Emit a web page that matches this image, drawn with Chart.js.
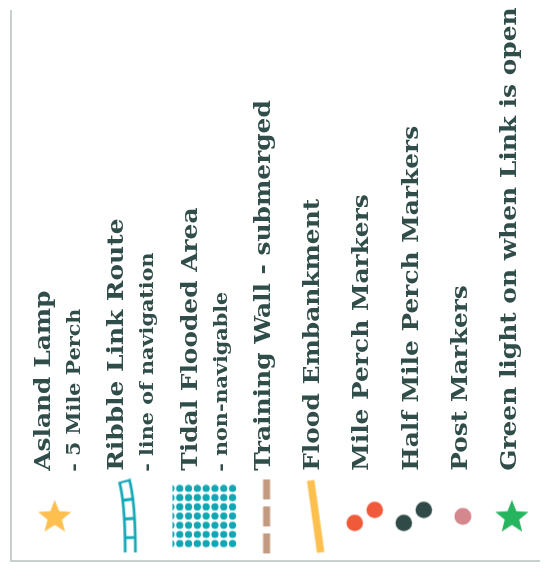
<!DOCTYPE html>
<html><head><meta charset="utf-8">
<script src="https://cdn.jsdelivr.net/npm/chart.js@4.4.1/dist/chart.umd.min.js"></script>
<style>
html,body{margin:0;padding:0;background:#fff;overflow:hidden}
#wrap{width:550px;height:572px;position:relative}
</style>
</head><body>
<div id="wrap"><canvas id="c"></canvas></div>
<script>
// ---- legend content ----
const labels = ["Asland Lamp","Ribble Link Route","Tidal Flooded Area","Training Wall - submerged","Flood Embankment","Mile Perch Markers","Half Mile Perch Markers","Post Markers","Green light on when Link is open"];
const subLabels = ["- 5 Mile Perch","- line of navigation","- non-navigable","","","","","",""];
const symbols = ["star","route","grid","dashed","bar","pair","pair","dot","star"];
const colors = ["#fdbf4f","#13a9b9","#10a6b3","#c29a80","#fdc04f","#f05a3a","#2f4a47","#d4878d","#27b45f"];

// ---- styling ----
const TEXT_COLOR = "#304d4a";
const MAIN_FONT = "bold 22px 'DejaVu Serif'";
const SUB_FONT = "bold 18px 'DejaVu Serif'";
const MAIN_STRETCH = 1.13;
const SUB_STRETCH = 1.15;
const SUB_GAP = 31;
const TEXT_ROW = 16.4;
const SYMBOL_ROW = 8.11;

// item positions derived from how many text lines each entry has
const positions = [];
labels.reduce((acc, _, i) => { positions.push(acc); return acc + (subLabels[i] ? 1.5 : 1); }, 0);
const symbolPos = positions.map((p, i) => p + (subLabels[i] ? 0.22 : 0.04));

function starPath(ctx, cx, cy, R, r) {
  ctx.beginPath();
  for (let k = 0; k < 10; k++) {
    const a = -Math.PI / 2 + k * Math.PI / 5;
    const rad = k % 2 === 0 ? R : r;
    ctx.lineTo(cx + rad * Math.cos(a), cy + rad * Math.sin(a));
  }
  ctx.closePath();
}

function makeSymbol(type, color) {
  const c = document.createElement('canvas');
  const g = c.getContext('2d');
  if (type === 'star') {
    c.width = 36; c.height = 36;
    g.fillStyle = color; starPath(g, 18, 19, 17.5, 7.6); g.fill();
  } else if (type === 'route') {
    c.width = 24; c.height = 76;
    const path = () => { g.beginPath(); g.moveTo(8, 2); g.quadraticCurveTo(14, 24, 14, 74); };
    g.strokeStyle = color; g.lineWidth = 13; path(); g.stroke();
    g.strokeStyle = '#fff'; g.lineWidth = 7.5; g.setLineDash([16, 3]); g.lineDashOffset = -2.5; path(); g.stroke();
  } else if (type === 'grid') {
    c.width = 70; c.height = 64;
    g.save(); g.beginPath(); g.rect(5.5, 0, 70, 64); g.clip();
    g.fillStyle = color;
    for (let col = 0; col < 8; col++) for (let row = 0; row < 7; row++) {
      g.beginPath(); g.arc(4 + 8.8 * col, 4 + 9.2 * row, 3.6, 0, Math.PI * 2); g.fill();
    }
    g.restore();
  } else if (type === 'dashed') {
    c.width = 12; c.height = 76;
    g.strokeStyle = color; g.lineWidth = 7; g.setLineDash([20, 7]);
    g.beginPath(); g.moveTo(6, 1); g.lineTo(6, 75); g.stroke();
  } else if (type === 'bar') {
    c.width = 22; c.height = 76;
    g.strokeStyle = color; g.lineWidth = 7.5;
    g.beginPath(); g.moveTo(6, 2); g.lineTo(16, 74); g.stroke();
  } else if (type === 'pair') {
    c.width = 40; c.height = 34;
    g.fillStyle = color;
    g.beginPath(); g.arc(10, 23.5, 8.3, 0, Math.PI * 2); g.fill();
    g.beginPath(); g.arc(30, 10.5, 8.3, 0, Math.PI * 2); g.fill();
  } else {
    c.width = 20; c.height = 20;
    g.fillStyle = color; g.beginPath(); g.arc(10, 10, 8.5, 0, Math.PI * 2); g.fill();
  }
  return c;
}

const symbolStyles = symbols.map((s, i) => makeSymbol(s, colors[i]));

const rotatedLabels = {
  id: 'rotatedLabels',
  afterDatasetsDraw(chart) {
    const { ctx, scales: { x, y } } = chart;
    const y0 = y.getPixelForValue(TEXT_ROW);
    ctx.save();
    ctx.fillStyle = TEXT_COLOR;
    ctx.textAlign = 'left';
    ctx.textBaseline = 'middle';
    const draw = (txt, px, py, font, stretch) => {
      ctx.save();
      ctx.translate(px, py);
      ctx.rotate(-Math.PI / 2);
      ctx.scale(stretch, 1);
      ctx.font = font;
      ctx.fillText(txt, 0, 0);
      ctx.restore();
    };
    labels.forEach((lab, i) => {
      const px = x.getPixelForValue(positions[i]);
      draw(lab, px, y0, MAIN_FONT, MAIN_STRETCH);
      if (subLabels[i]) draw(subLabels[i], px + SUB_GAP, y0 + 1, SUB_FONT, SUB_STRETCH);
    });
    ctx.restore();
  }
};

new Chart(document.getElementById('c'), {
  type: 'scatter',
  data: {
    datasets: [{
      data: symbolPos.map((p) => ({ x: p, y: SYMBOL_ROW })),
      pointStyle: symbolStyles,
      pointRadius: 10,
      pointHoverRadius: 10
    }]
  },
  options: {
    responsive: true,
    maintainAspectRatio: false,
    animation: false,
    events: [],
    layout: { padding: { left: 5, right: 0, top: 0, bottom: 5 } },
    plugins: { legend: { display: false }, tooltip: { enabled: false } },
    scales: {
      x: {
        type: 'linear', min: -0.6715, max: 10.093,
        grid: { display: false, drawTicks: false },
        ticks: { display: false },
        border: { display: true, color: '#c8cfcf', width: 2 }
      },
      y: {
        type: 'linear', min: 0, max: 100,
        grid: { display: false, drawTicks: false },
        ticks: { display: false },
        border: { display: true, color: '#c8cfcf', width: 2 }
      }
    }
  },
  plugins: [rotatedLabels]
});
</script>
</body></html>
